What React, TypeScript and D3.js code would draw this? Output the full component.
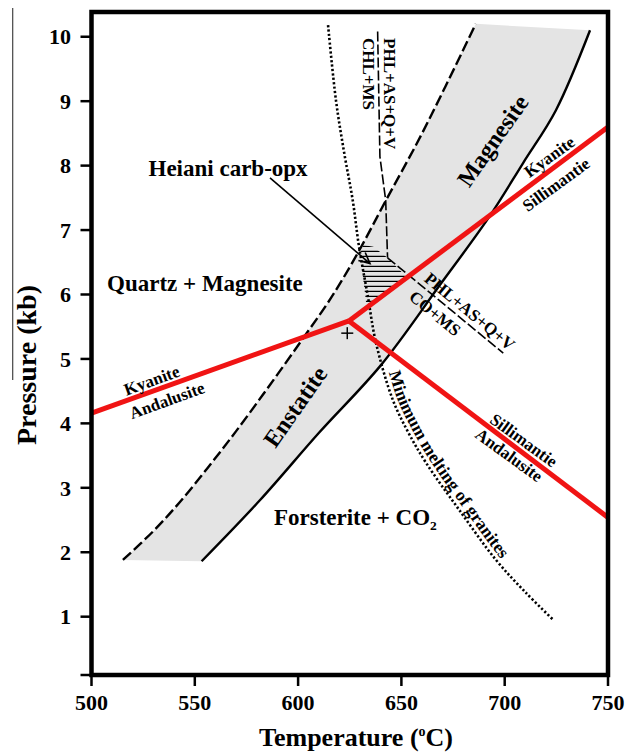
import React from 'react';
import * as d3 from 'd3';

type Pt = [number, number]; // [temperature °C, pressure kb]

const W = 636;
const H = 755;

const temperatureTicks = [500, 550, 600, 650, 700, 750];
const pressureTicks = [1, 2, 3, 4, 5, 6, 7, 8, 9, 10];

// Quartz + Magnesite = Enstatite (dashed, low-T edge of the enstatite band)
const quartzMagnesiteOut: Pt[] = [
  [515.2, 1.88], [530, 2.33], [542.8, 2.78], [556, 3.3], [570, 3.88], [586, 4.58],
  [602.4, 5.32], [616, 5.95], [629, 6.65], [642.5, 7.46], [660, 8.5], [686, 10.2],
];

// Enstatite + Magnesite = Forsterite + CO2 (solid, high-T edge of the band)
const forsteriteIn: Pt[] = [
  [553.3, 1.86], [581.6, 2.81], [610, 3.85], [640, 4.9], [668.7, 6.15],
  [692.4, 7.2], [708.9, 8.04], [724.8, 8.86], [741.3, 10.1],
];

// Minimum melting of granites (dotted)
const graniteMelting: Pt[] = [
  [614.5, 10.18], [618.3, 9.02], [622.3, 8.2], [626.4, 7.47], [629.5, 6.74], [633.6, 6.0],
  [637.7, 5.25], [645.9, 4.36], [653.5, 3.85], [661.9, 3.39], [677.9, 2.66], [695.8, 1.88],
  [710, 1.38], [723.2, 0.96],
];

// PHL+AS+Q+V = CHL+MS
const chlMsReaction: Pt[] = [[638.5, 10.08], [639.6, 8.14], [642.4, 7.46], [643.3, 6.57]];
// PHL+AS+Q+V = CO+MS
const coMsReaction: Pt[] = [[643.3, 6.57], [699.3, 5.09]];

// Heiani carb-opx P–T field (hatched)
const heianiField: Pt[] = [
  [631.6, 6.77], [636.4, 6.74], [643.3, 6.57], [652.8, 6.26], [633.2, 5.8], [630, 6.64],
];

// Al2SiO5 reactions
const kyaniteAndalusite: Pt[] = [[500, 4.16], [624.6, 5.59]];
const kyaniteSillimanite: Pt[] = [[624.6, 5.59], [750, 8.6]];
const sillimaniteAndalusite: Pt[] = [[624.6, 5.59], [750, 2.54]];

const samplePoint: Pt = [623.8, 5.4];
const arrowFrom: Pt = [586.4, 7.81];
const arrowTo: Pt = [634.8, 6.48];

const FONT = '"Liberation Serif", "Times New Roman", Times, serif';

export default function App() {
  const x = d3.scaleLinear().domain([500, 750]).range([91.5, 608]);
  const y = d3.scaleLinear().domain([0.095, 10.384]).range([675, 12]);

  const straight = d3.line<Pt>().x((d) => x(d[0])).y((d) => y(d[1]));
  const smooth = d3
    .line<Pt>()
    .x((d) => x(d[0]))
    .y((d) => y(d[1]))
    .curve(d3.curveCatmullRom.alpha(0.5));

  // shaded enstatite band between the dashed and solid curves
  const bandPath =
    (smooth(quartzMagnesiteOut) as string) +
    (smooth(forsteriteIn.slice().reverse()) as string).replace(/^M/, 'L') +
    'Z';

  // hatch lines for the carb-opx field
  const fieldPx = heianiField.map((d) => [x(d[0]), y(d[1])] as [number, number]);
  const fy0 = d3.min(fieldPx, (d) => d[1]) as number;
  const fy1 = d3.max(fieldPx, (d) => d[1]) as number;
  const fx0 = d3.min(fieldPx, (d) => d[0]) as number;
  const fx1 = d3.max(fieldPx, (d) => d[0]) as number;
  const hatchYs = d3.range(fy0 + 1.5, fy1, 5);

  // baseline for the melting-curve label, offset to the upper-right of the dotted curve
  const meltPx = graniteMelting.slice(6).map((d) => [x(d[0]), y(d[1])] as [number, number]);
  const meltOffset = meltPx.map((p, i) => {
    const a = meltPx[Math.max(0, i - 1)];
    const b = meltPx[Math.min(meltPx.length - 1, i + 1)];
    const tx = b[0] - a[0];
    const ty = b[1] - a[1];
    const len = Math.hypot(tx, ty) || 1;
    const off = 4.5;
    return [p[0] + (ty / len) * off, p[1] + (-tx / len) * off] as [number, number];
  });
  const meltLabelPath = d3.line().curve(d3.curveCatmullRom.alpha(0.5))(meltOffset) as string;

  // arrow geometry
  const ax0 = x(arrowFrom[0]);
  const ay0 = y(arrowFrom[1]);
  const ax1 = x(arrowTo[0]);
  const ay1 = y(arrowTo[1]);
  const ang = Math.atan2(ay1 - ay0, ax1 - ax0);
  const barb = 12;
  const spread = (26 * Math.PI) / 180;
  const b1 = [ax1 - barb * Math.cos(ang - spread), ay1 - barb * Math.sin(ang - spread)];
  const b2 = [ax1 - barb * Math.cos(ang + spread), ay1 - barb * Math.sin(ang + spread)];

  const [xL, xR] = x.range();
  const [yB, yT] = y.range();

  const lbl = (t: number, p: number, angle: number) =>
    `translate(${x(t)},${y(p)}) rotate(${angle})`;

  return (
    <svg
      width={W}
      height={H}
      style={{ position: 'absolute', left: 0, top: 0, background: '#fff' }}
      fontFamily={FONT}
      fontWeight="bold"
    >
      <line x1={12.7} x2={12.7} y1={8} y2={380} stroke="#444" strokeWidth={1.2} />

      <path d={bandPath} fill="#e4e4e4" stroke="none" />

      <defs>
        <clipPath id="heiani-clip">
          <polygon points={fieldPx.map((d) => d.join(',')).join(' ')} />
        </clipPath>
        <path id="melt-label-path" d={meltLabelPath} />
      </defs>
      <g clipPath="url(#heiani-clip)">
        {hatchYs.map((hy) => (
          <line key={hy} x1={fx0 - 2} x2={fx1 + 2} y1={hy} y2={hy} stroke="#000" strokeWidth={1.3} />
        ))}
      </g>

      <path
        d={smooth(graniteMelting) as string}
        fill="none"
        stroke="#000"
        strokeWidth={2.6}
        strokeDasharray="2.2,2.2"
      />
      <path
        d={smooth(quartzMagnesiteOut) as string}
        fill="none"
        stroke="#000"
        strokeWidth={2.4}
        strokeDasharray="11,4"
      />
      <path d={smooth(forsteriteIn) as string} fill="none" stroke="#000" strokeWidth={2.4} />
      <path
        d={straight(chlMsReaction) as string}
        fill="none"
        stroke="#000"
        strokeWidth={1.6}
        strokeDasharray="10,3"
      />
      <path
        d={straight(coMsReaction) as string}
        fill="none"
        stroke="#000"
        strokeWidth={1.6}
        strokeDasharray="10,3"
      />

      {[kyaniteAndalusite, kyaniteSillimanite, sillimaniteAndalusite].map((seg, i) => (
        <path key={i} d={straight(seg) as string} fill="none" stroke="#f01414" strokeWidth={5} strokeLinecap="butt" />
      ))}

      <g stroke="#000" strokeWidth={1.5}>
        <line x1={x(samplePoint[0]) - 6} x2={x(samplePoint[0]) + 6} y1={y(samplePoint[1])} y2={y(samplePoint[1])} />
        <line x1={x(samplePoint[0])} x2={x(samplePoint[0])} y1={y(samplePoint[1]) - 6} y2={y(samplePoint[1]) + 6} />
      </g>

      <g stroke="#000" strokeWidth={1.6} fill="none">
        <line x1={ax0} y1={ay0} x2={ax1} y2={ay1} />
        <polyline points={`${b1[0]},${b1[1]} ${ax1},${ay1} ${b2[0]},${b2[1]}`} />
      </g>

      {/* field labels */}
      <g fill="#000" fontSize={23}>
        <text transform={lbl(554.9, 6.18, 0)} textAnchor="middle" dy="0.35em">Quartz + Magnesite</text>
        <text transform={lbl(566.1, 7.96, 0)} textAnchor="middle" dy="0.35em">Heiani carb-opx</text>
        <text transform={lbl(588.3, 2.55, 0)} textAnchor="start" dy="0.35em">
          Forsterite + CO<tspan fontSize={13.5} dy={5}>2</tspan>
        </text>
      </g>
      <g fill="#000" fontSize={24}>
        <text transform={lbl(694.1, 8.39, -55)} textAnchor="middle" dy="0.35em">Magnesite</text>
        <text transform={lbl(598.5, 4.26, -55)} textAnchor="middle" dy="0.35em">Enstatite</text>
      </g>

      {/* reaction labels */}
      <g fill="#000" fontSize={17}>
        <text transform={lbl(529.1, 4.67, -20)} textAnchor="middle" dy="0.35em">Kyanite</text>
        <text transform={lbl(536.5, 4.36, -20)} textAnchor="middle" dy="0.35em">Andalusite</text>
        <text transform={lbl(721.6, 8.14, -36)} textAnchor="middle" dy="0.35em">Kyanite</text>
        <text transform={lbl(724.8, 7.71, -36)} textAnchor="middle" dy="0.35em">Sillimantie</text>
        <text transform={lbl(709.3, 3.74, 36)} textAnchor="middle" dy="0.35em">Sillimantie</text>
        <text transform={lbl(702.2, 3.51, 36)} textAnchor="middle" dy="0.35em">Andalusite</text>
        <text transform={lbl(683.2, 5.74, 39.6)} textAnchor="middle" dy="0.35em">PHL+AS+Q+V</text>
        <text transform={lbl(666.3, 5.71, 39.6)} textAnchor="middle" dy="0.35em">CO+MS</text>
        <text transform={lbl(644.5, 9.98, 90)} textAnchor="start" dy="0.35em">PHL+AS+Q+V</text>
        <text transform={lbl(634.3, 9.98, 90)} textAnchor="start" dy="0.35em">CHL+MS</text>
        <text fontSize={17.5}>
          <textPath href="#melt-label-path" startOffset={32}>Minimum melting of granites</textPath>
        </text>
      </g>

      {/* frame and axes */}
      <rect x={xL} y={yT} width={xR - xL} height={yB - yT} fill="none" stroke="#000" strokeWidth={4.5} />
      <g stroke="#000" strokeWidth={2.5}>
        {temperatureTicks.map((t) => (
          <line key={t} x1={x(t)} x2={x(t)} y1={yB} y2={yB + 11} />
        ))}
        {[y.domain()[0], ...pressureTicks].map((p) => (
          <line key={p} x1={xL - 11} x2={xL} y1={y(p)} y2={y(p)} />
        ))}
      </g>
      <g fill="#000" fontSize={22}>
        {temperatureTicks.map((t) => (
          <text key={t} x={x(t)} y={710} textAnchor="middle">{t}</text>
        ))}
        {pressureTicks.map((p) => (
          <text key={p} x={71} y={y(p)} dy="0.35em" textAnchor="end">{p}</text>
        ))}
      </g>
      <text x={356} y={746} textAnchor="middle" fontSize={26} fill="#000">
        Temperature (<tspan fontSize={14} dy={-10}>o</tspan><tspan dy={10}>C)</tspan>
      </text>
      <text transform="translate(26,365) rotate(-90)" textAnchor="middle" dy="0.35em" fontSize={28} fill="#000">
        Pressure (kb)
      </text>
    </svg>
  );
}
